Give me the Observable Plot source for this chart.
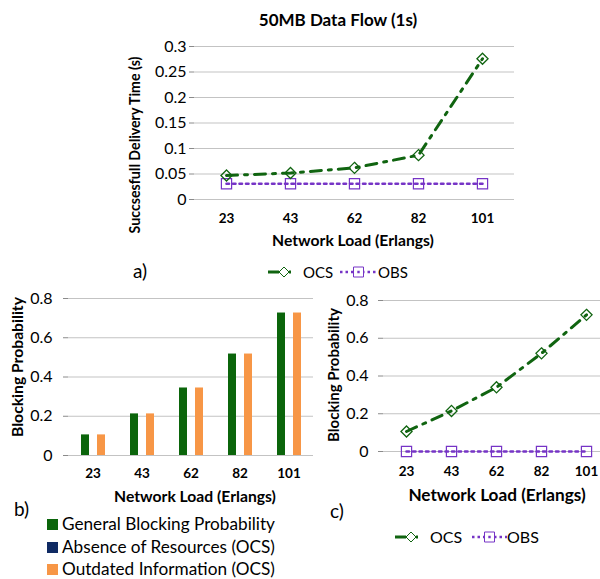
<!DOCTYPE html>
<html><head><meta charset="utf-8">
<script src="https://cdn.jsdelivr.net/npm/d3@7"></script>
<script src="https://cdn.jsdelivr.net/npm/@observablehq/plot@0.6"></script>
<style>
html,body{margin:0;padding:0;background:#fff;overflow:hidden;}
#root{position:relative;width:600px;height:579px;overflow:hidden;font-family:Lato,"Open Sans",sans-serif;color:#000;}
.abs{position:absolute;white-space:nowrap;line-height:1;}
.plot{position:absolute;}
.plot svg{overflow:visible;max-width:none !important;}
svg g[aria-label="x-axis tick label"], svg g[aria-label="fx-axis tick label"]{font-weight:bold;font-size:13.5px;}
svg g[aria-label="y-axis tick label"]{font-size:16px;}
</style></head><body><div id="root"></div>
<script>
// ---------- data ----------
const loads = ["23", "43", "62", "82", "101"];
// a) 50MB data flow: successful delivery time (s)
const ocsDelay = [0.047, 0.052, 0.062, 0.087, 0.276];
const obsDelay = [0.031, 0.031, 0.031, 0.031, 0.031];
const delayTicks = [0, 0.05, 0.1, 0.15, 0.2, 0.25, 0.3];
// b) blocking probability bars
const seriesB = ["General Blocking Probability", "Absence of Resources (OCS)", "Outdated Information (OCS)"];
const generalBlocking = [0.105, 0.212, 0.344, 0.517, 0.726];
const absenceResources = [0, 0, 0, 0, 0];
const outdatedInfo = [0.105, 0.212, 0.344, 0.517, 0.726];
// c) blocking probability lines
const ocsBlocking = [0.106, 0.215, 0.34, 0.52, 0.724];
const obsBlocking = [0, 0, 0, 0, 0];
const probTicks = [0, 0.2, 0.4, 0.6, 0.8];

// ---------- styles ----------
const ocsColor = "#106410", obsColor = "#7634c6";
const colorsB = ["#0b650b", "#0f2a63", "#f79646"];
const gridColor = "#c3c3c3", axisGray = "#8a8a8a";
const FONT = "Lato, 'Open Sans', sans-serif";
const root = document.getElementById("root");

function place(node, left, top, w, h) {
  const d = document.createElement("div");
  d.className = "plot";
  d.style.left = left + "px"; d.style.top = top + "px";
  d.style.width = w + "px"; d.style.height = h + "px";
  node.style.maxWidth = "none";
  node.setAttribute("width", w); node.setAttribute("height", h);
  d.appendChild(node); root.appendChild(d);
}
function text(str, x, y, opts = {}) {
  const d = document.createElement("div");
  d.className = "abs";
  d.textContent = str;
  d.style.fontSize = (opts.size || 16) + "px";
  if (opts.bold) d.style.fontWeight = "bold";
  d.style.left = x + "px"; d.style.top = y + "px";
  let t = opts.anchor === "start" ? "translate(0,-50%)" : "translate(-50%,-50%)";
  if (opts.rotate) t += " rotate(-90deg)";
  d.style.transform = t;
  root.appendChild(d);
  return d;
}
const NS = "http://www.w3.org/2000/svg";
function swatch(kind, x, y, w) {
  const svg = document.createElementNS(NS, "svg");
  svg.setAttribute("width", w); svg.setAttribute("height", 14);
  svg.style.position = "absolute"; svg.style.left = x + "px"; svg.style.top = (y - 7) + "px";
  const line = document.createElementNS(NS, "line");
  line.setAttribute("x1", 0); line.setAttribute("x2", w); line.setAttribute("y1", 7); line.setAttribute("y2", 7);
  const m = document.createElementNS(NS, "path");
  const c = w / 2 + (kind === "ocs" ? 3 : 0);
  if (kind === "ocs") {
    line.setAttribute("stroke", ocsColor); line.setAttribute("stroke-width", 3);
    line.setAttribute("stroke-dasharray", `${c - 5},10,2,20`);
    m.setAttribute("d", `M${c},2L${c + 5},7L${c},12L${c - 5},7Z`);
    m.setAttribute("stroke", ocsColor);
  } else {
    line.setAttribute("stroke", obsColor); line.setAttribute("stroke-width", 2.5);
    line.setAttribute("stroke-dasharray", "2.5,3");
    m.setAttribute("d", `M${c - 5},2h10v10h-10Z`);
    m.setAttribute("stroke", obsColor);
  }
  m.setAttribute("fill", "white"); m.setAttribute("stroke-width", 1);
  svg.appendChild(line); svg.appendChild(m);
  if (kind === "obs") {
    const dot = document.createElementNS(NS, "line");
    dot.setAttribute("x1", c - 1.2); dot.setAttribute("x2", c + 1.2); dot.setAttribute("y1", 7); dot.setAttribute("y2", 7);
    dot.setAttribute("stroke", obsColor); dot.setAttribute("stroke-width", 2.5);
    svg.appendChild(dot);
  }
  root.appendChild(svg);
}

// ---------- chart a ----------
const aRows = loads.map((l, i) => ({load: l, ocs: ocsDelay[i], obs: obsDelay[i]}));
const chartA = Plot.plot({
  width: 600, height: 250,
  marginLeft: 194, marginRight: 86, marginTop: 46, marginBottom: 51,
  style: {fontFamily: FONT, background: "transparent", color: "#000"},
  x: {type: "point", domain: loads, padding: 0.5, axis: null},
  y: {domain: [0, 0.3], axis: null},
  marks: [
    Plot.ruleY(delayTicks, {stroke: gridColor, strokeWidth: 1}),
    Plot.axisY({ticks: delayTicks, tickSize: 5, tickPadding: 3, tickFormat: d => String(d), stroke: axisGray, fill: "#000", line: true, label: null}),
    Plot.axisX({tickSize: 0, tickPadding: 14, fill: "#000", label: null}),
    Plot.line(aRows, {x: "load", y: "obs", stroke: obsColor, strokeWidth: 2.6, strokeDasharray: "2.5,4"}),
    Plot.line(aRows, {x: "load", y: "ocs", stroke: ocsColor, strokeWidth: 3, strokeDasharray: "11,7,3,7"}),
    Plot.dot(aRows, {x: "load", y: "obs", symbol: "square2", r: 6.5, stroke: obsColor, fill: "none", strokeWidth: 1.2}),
    Plot.dot(aRows, {x: "load", y: "ocs", symbol: "diamond2", r: 5, stroke: ocsColor, fill: "none", strokeWidth: 1.3})
  ]
});
place(chartA, 0, 0, 600, 250);

// ---------- chart b ----------
const bValues = [generalBlocking, absenceResources, outdatedInfo];
const bRows = loads.flatMap((l, i) => seriesB.map((s, j) => ({load: l, series: s, value: bValues[j][i]})));
const chartB = Plot.plot({
  width: 320, height: 200,
  marginLeft: 68, marginRight: 7, marginTop: 18, marginBottom: 25,
  style: {fontFamily: FONT, background: "transparent", color: "#000"},
  fx: {domain: loads, padding: 0, axis: null},
  x: {domain: seriesB, paddingInner: 0, paddingOuter: 1.5625, axis: null},
  y: {domain: [0, 0.8], axis: null},
  color: {domain: seriesB, range: colorsB},
  marks: [
    Plot.ruleY(probTicks, {stroke: gridColor, strokeWidth: 1}),
    Plot.axisY({ticks: probTicks, tickSize: 5, tickPadding: 11, tickFormat: d => String(d), stroke: axisGray, fill: "#000", line: true, label: null}),
    Plot.axisFx({anchor: "bottom", tickSize: 0, tickPadding: 13, fill: "#000", label: null}),
    Plot.barY(bRows, {fx: "load", x: "series", y: "value", fill: "series"})
  ]
});
place(chartB, 0, 280, 320, 200);

// ---------- chart c ----------
const cRows = loads.map((l, i) => ({load: l, ocs: ocsBlocking[i], obs: obsBlocking[i]}));
const chartC = Plot.plot({
  width: 300, height: 200,
  marginLeft: 63, marginRight: 12, marginTop: 20, marginBottom: 29,
  style: {fontFamily: FONT, background: "transparent", color: "#000"},
  x: {type: "point", domain: loads, padding: 0.5, axis: null},
  y: {domain: [0, 0.8], axis: null},
  marks: [
    Plot.ruleY(probTicks, {stroke: gridColor, strokeWidth: 1}),
    Plot.axisY({ticks: probTicks, tickSize: 5, tickPadding: 10, tickFormat: d => String(d), stroke: axisGray, fill: "#000", line: true, label: null}),
    Plot.axisX({tickSize: 0, tickPadding: 15, fill: "#000", label: null}),
    Plot.line(cRows, {x: "load", y: "obs", stroke: obsColor, strokeWidth: 2.6, strokeDasharray: "2.5,4"}),
    Plot.line(cRows, {x: "load", y: "ocs", stroke: ocsColor, strokeWidth: 3, strokeDasharray: "11,7,3,7"}),
    Plot.dot(cRows, {x: "load", y: "obs", symbol: "square2", r: 6.5, stroke: obsColor, fill: "none", strokeWidth: 1.2}),
    Plot.dot(cRows, {x: "load", y: "ocs", symbol: "diamond2", r: 5, stroke: ocsColor, fill: "none", strokeWidth: 1.3})
  ]
});
place(chartC, 320, 280, 300, 200);

// ---------- text ----------
text("50MB Data Flow (1s)", 338, 19, {size: 17, bold: true});
text("Succsesfull Delivery Time (s)", 135, 145, {size: 14.2, bold: true, rotate: true});
text("Network Load (Erlangs)", 353, 241, {size: 15.7, bold: true});
text("a)", 133, 270, {size: 19, anchor: "start"});
swatch("ocs", 268, 272, 26);
text("OCS", 303, 272, {size: 15, anchor: "start"});
swatch("obs", 340, 272, 37);
text("OBS", 378, 272, {size: 15, anchor: "start"});

text("Blocking Probability", 18, 367, {size: 15.7, bold: true, rotate: true});
text("Network Load (Erlangs)", 195, 497, {size: 15.7, bold: true});
text("b)", 14, 508, {size: 19, anchor: "start"});
const legendY = [524, 547, 569];
seriesB.forEach((s, i) => {
  const sq = document.createElement("div");
  sq.className = "abs";
  sq.style.left = "47px"; sq.style.top = (legendY[i] - 5.5) + "px";
  sq.style.width = "11px"; sq.style.height = "11px"; sq.style.background = colorsB[i];
  root.appendChild(sq);
  text(s, 62, legendY[i], {size: 17.2, anchor: "start"});
});

text("Blocking Probability", 333, 375, {size: 15, bold: true, rotate: true});
text("Network Load (Erlangs)", 497, 495, {size: 17.2, bold: true});
text("c)", 330, 510, {size: 19, anchor: "start"});
swatch("ocs", 395, 537, 26);
text("OCS", 430, 537, {size: 16, anchor: "start"});
swatch("obs", 472, 537, 35);
text("OBS", 507, 537, {size: 16, anchor: "start"});
</script></body></html>
